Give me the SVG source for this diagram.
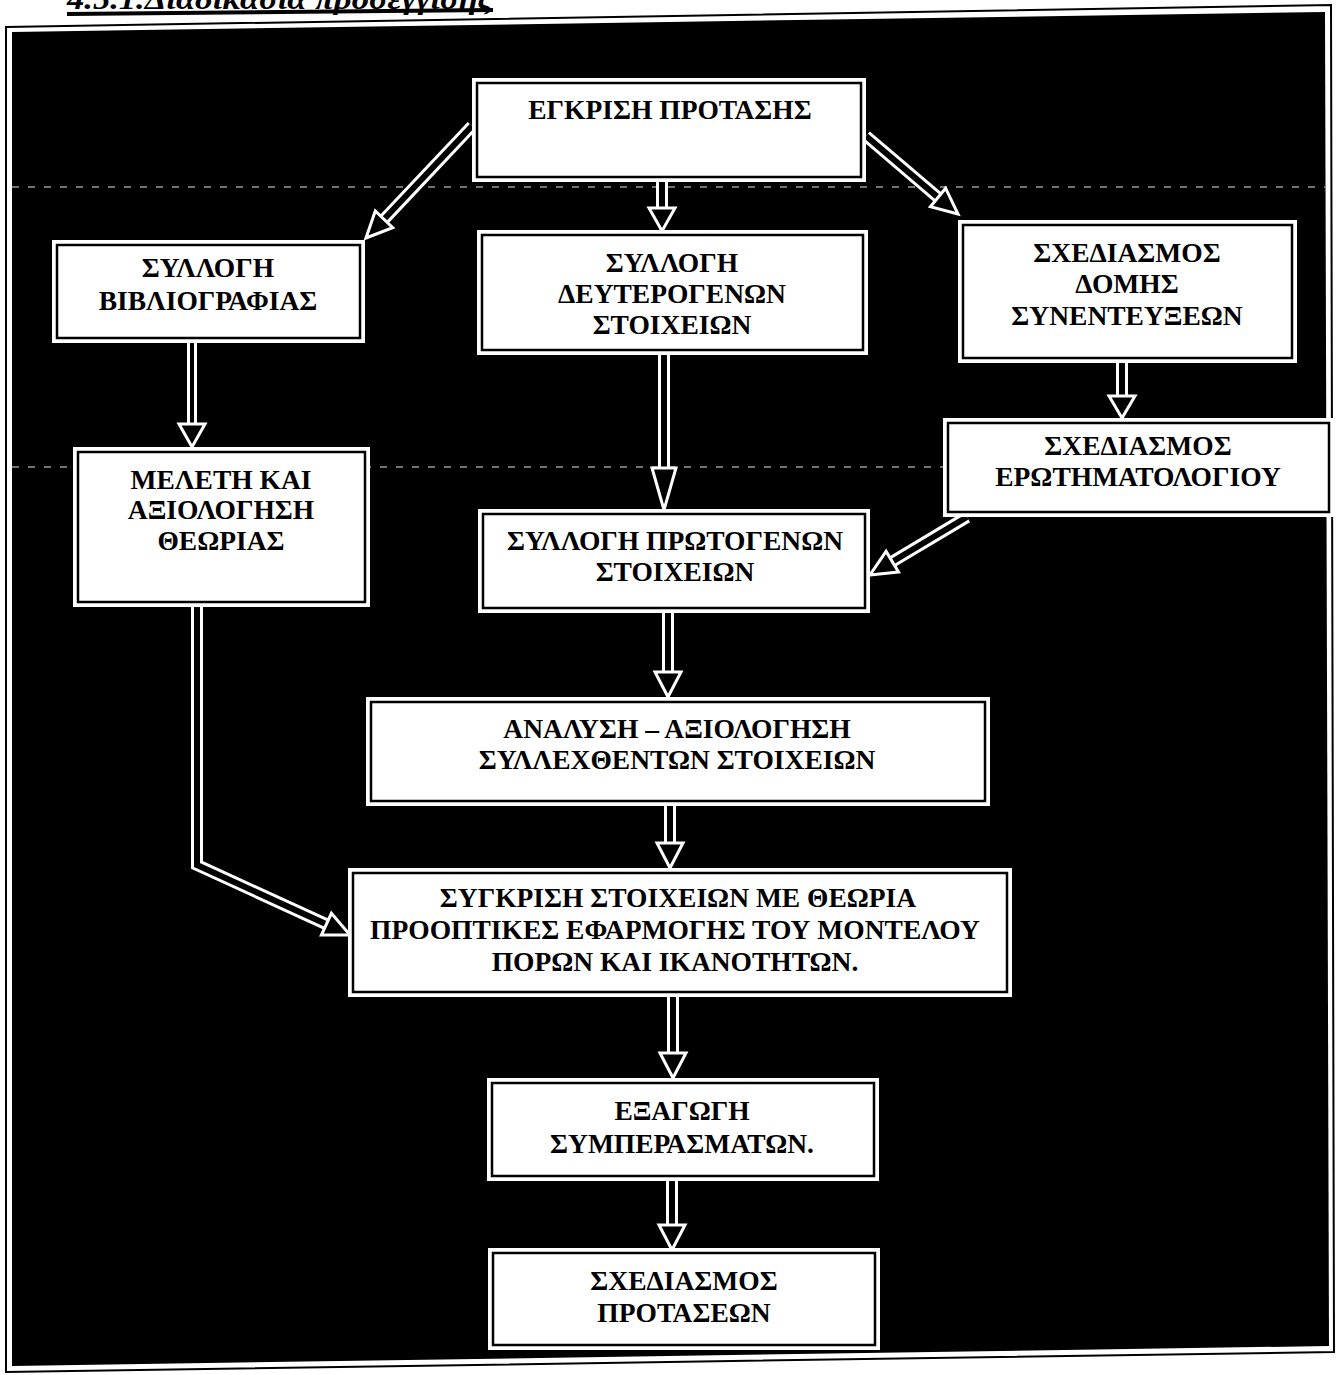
<svg xmlns="http://www.w3.org/2000/svg" width="1339" height="1375" viewBox="0 0 1339 1375">
<style>
.box{fill:#fff;stroke:none}
.inner{fill:none;stroke:#000;stroke-width:2.5}
.t{font-family:"Liberation Serif","Times New Roman",serif;font-weight:bold;font-size:27.5px;fill:#000;text-anchor:middle}
.sh1{fill:none;stroke:#fff;stroke-width:12;stroke-linecap:butt;stroke-linejoin:miter}
.sh2{fill:none;stroke:#000;stroke-width:6;stroke-linecap:butt;stroke-linejoin:miter}
.hd{fill:#000;stroke:#fff;stroke-width:3;stroke-linejoin:miter}
.art{fill:none;stroke:#fff;stroke-width:1.5;stroke-dasharray:7 9;opacity:0.6}
</style>
<rect x="0" y="0" width="1339" height="1375" fill="#fff"/>
<g id="title">
<text x="67" y="9" font-family="'Liberation Serif','Times New Roman',serif" font-weight="bold" font-style="italic" font-size="30" textLength="426" lengthAdjust="spacingAndGlyphs">4.5.1.Διαδικασία προσέγγισης</text>
<polygon points="67,12 493,8 493,12 67,16" fill="#000"/>
</g>
<g id="frame">
<polygon points="6,27 1331,5 1334,1352 6,1372" fill="none" stroke="#000" stroke-width="2"/>
<polygon points="12,32 1325,12 1329,1346 12,1366" fill="#000"/>
<line class="art" x1="12" y1="187" x2="1325" y2="187"/>
<line class="art" x1="12" y1="467" x2="1325" y2="467"/>
</g>
<g id="connectors">
<path class="sh1" d="M472,126 L384,219.3"/>
<path class="sh2" d="M472,126 L384,219.3"/>
<path class="sh1" d="M662,182 V208"/>
<path class="sh2" d="M662,182 V208"/>
<path class="sh1" d="M866,136 L938,197.4"/>
<path class="sh2" d="M866,136 L938,197.4"/>
<path class="sh1" d="M192,343 V424" style="stroke-width:10"/>
<path class="sh2" d="M192,343 V424" style="stroke-width:4"/>
<path class="sh1" d="M664,355 V468"/>
<path class="sh2" d="M664,355 V468"/>
<path class="sh1" d="M1122,363 V396"/>
<path class="sh2" d="M1122,363 V396"/>
<path class="sh1" d="M967,517 L892.3,561.7"/>
<path class="sh2" d="M967,517 L892.3,561.7"/>
<path class="sh1" d="M668,613 V672"/>
<path class="sh2" d="M668,613 V672"/>
<path class="sh1" d="M670,806 V843"/>
<path class="sh2" d="M670,806 V843"/>
<path class="sh1" d="M197,607 V865 L326.4,924.2"/>
<path class="sh2" d="M197,607 V865 L326.4,924.2"/>
<path class="sh1" d="M673,997 V1053"/>
<path class="sh2" d="M673,997 V1053"/>
<path class="sh1" d="M672,1180 V1225"/>
<path class="sh2" d="M672,1180 V1225"/>
<polygon class="hd" points="366,238 392.7,227.6 375.3,211"/>
<polygon class="hd" points="662,231 649,208 675,208"/>
<polygon class="hd" points="958,214 930.4,206.7 945.6,188.2"/>
<polygon class="hd" points="192,447 179,424 205,424"/>
<polygon class="hd" points="664,510 652,468 676,468"/>
<polygon class="hd" points="1122,418 1109,396 1135,396"/>
<polygon class="hd" points="870,575 898.5,572 886.1,551.4"/>
<polygon class="hd" points="668,697 655,672 681,672"/>
<polygon class="hd" points="670,868 657,843 683,843"/>
<polygon class="hd" points="350,935 321.4,935.1 331.4,913.3"/>
<polygon class="hd" points="673,1078 660,1053 686,1053"/>
<polygon class="hd" points="672,1250 659,1225 685,1225"/>
</g>
<g id="n1">
<rect class="box" x="472" y="78" width="394" height="104"/>
<rect class="inner" x="477" y="83" width="384" height="94"/>
<text class="t" x="670" y="119">ΕΓΚΡΙΣΗ ΠΡΟΤΑΣΗΣ</text>
</g>
<g id="n2">
<rect class="box" x="52" y="240" width="313" height="103"/>
<rect class="inner" x="57" y="245" width="303" height="93"/>
<text class="t" x="208" y="277">ΣΥΛΛΟΓΗ</text>
<text class="t" x="208" y="310">ΒΙΒΛΙΟΓΡΑΦΙΑΣ</text>
</g>
<g id="n3">
<rect class="box" x="73" y="447" width="297" height="160"/>
<rect class="inner" x="78" y="452" width="287" height="150"/>
<text class="t" x="221" y="489">ΜΕΛΕΤΗ ΚΑΙ</text>
<text class="t" x="221" y="519">ΑΞΙΟΛΟΓΗΣΗ</text>
<text class="t" x="221" y="550">ΘΕΩΡΙΑΣ</text>
</g>
<g id="n4">
<rect class="box" x="477" y="230" width="391" height="125"/>
<rect class="inner" x="482" y="235" width="381" height="115"/>
<text class="t" x="672" y="272">ΣΥΛΛΟΓΗ</text>
<text class="t" x="672" y="303">ΔΕΥΤΕΡΟΓΕΝΩΝ</text>
<text class="t" x="672" y="334">ΣΤΟΙΧΕΙΩΝ</text>
</g>
<g id="n5">
<rect class="box" x="478" y="509" width="392" height="104"/>
<rect class="inner" x="483" y="514" width="382" height="94"/>
<text class="t" x="675" y="550">ΣΥΛΛΟΓΗ ΠΡΩΤΟΓΕΝΩΝ</text>
<text class="t" x="675" y="581">ΣΤΟΙΧΕΙΩΝ</text>
</g>
<g id="n6">
<rect class="box" x="958" y="220" width="339" height="143"/>
<rect class="inner" x="963" y="225" width="329" height="133"/>
<text class="t" x="1127" y="262">ΣΧΕΔΙΑΣΜΟΣ</text>
<text class="t" x="1127" y="293">ΔΟΜΗΣ</text>
<text class="t" x="1127" y="325">ΣΥΝΕΝΤΕΥΞΕΩΝ</text>
</g>
<g id="n7">
<rect class="box" x="943" y="418" width="391" height="99"/>
<rect class="inner" x="948" y="423" width="381" height="89"/>
<text class="t" x="1138" y="455">ΣΧΕΔΙΑΣΜΟΣ</text>
<text class="t" x="1138" y="486">ΕΡΩΤΗΜΑΤΟΛΟΓΙΟΥ</text>
</g>
<g id="n8">
<rect class="box" x="366" y="697" width="624" height="109"/>
<rect class="inner" x="371" y="702" width="614" height="99"/>
<text class="t" x="677" y="738">ΑΝΑΛΥΣΗ – ΑΞΙΟΛΟΓΗΣΗ</text>
<text class="t" x="677" y="769">ΣΥΛΛΕΧΘΕΝΤΩΝ ΣΤΟΙΧΕΙΩΝ</text>
</g>
<g id="n9">
<rect class="box" x="348" y="868" width="664" height="129"/>
<rect class="inner" x="353" y="873" width="654" height="119"/>
<text class="t" x="678" y="907">ΣΥΓΚΡΙΣΗ ΣΤΟΙΧΕΙΩΝ ΜΕ ΘΕΩΡΙΑ</text>
<text class="t" x="675" y="939">ΠΡΟΟΠΤΙΚΕΣ ΕΦΑΡΜΟΓΗΣ ΤΟΥ ΜΟΝΤΕΛΟΥ</text>
<text class="t" x="675" y="971">ΠΟΡΩΝ ΚΑΙ ΙΚΑΝΟΤΗΤΩΝ.</text>
</g>
<g id="n10">
<rect class="box" x="487" y="1078" width="392" height="103"/>
<rect class="inner" x="492" y="1083" width="382" height="93"/>
<text class="t" x="682" y="1120">ΕΞΑΓΩΓΗ</text>
<text class="t" x="682" y="1153">ΣΥΜΠΕΡΑΣΜΑΤΩΝ.</text>
</g>
<g id="n11">
<rect class="box" x="488" y="1248" width="392" height="102"/>
<rect class="inner" x="493" y="1253" width="382" height="92"/>
<text class="t" x="684" y="1290">ΣΧΕΔΙΑΣΜΟΣ</text>
<text class="t" x="684" y="1322">ΠΡΟΤΑΣΕΩΝ</text>
</g>
</svg>
